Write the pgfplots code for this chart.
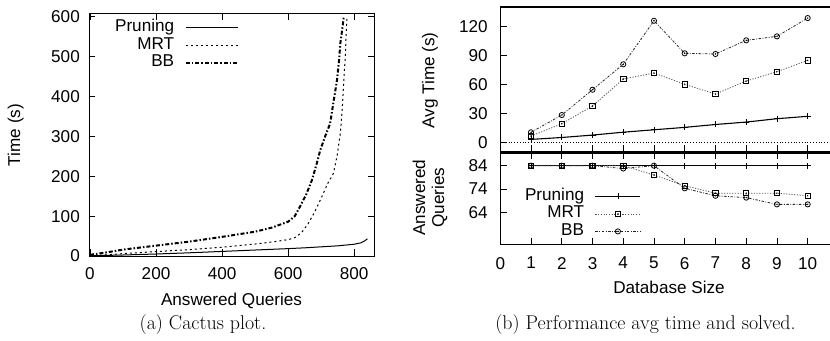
\documentclass[border=0pt]{standalone}
\usepackage{fontspec}
\newfontfamily\helv{Liberation Sans}
\usepackage{pgfplots}
\pgfplotsset{compat=1.18}
\pgfdeclareplotmark{sqdot}{%
  \pgfpathrectangle{\pgfpoint{-\pgfplotmarksize}{-\pgfplotmarksize}}{\pgfpoint{2\pgfplotmarksize}{2\pgfplotmarksize}}%
  \pgfusepathqstroke
  \pgfpathcircle{\pgfpointorigin}{0.3\pgfplotmarksize}\pgfusepathqfill}
\pgfdeclareplotmark{cdot}{%
  \pgfpathcircle{\pgfpointorigin}{\pgfplotmarksize}\pgfusepathqstroke
  \pgfpathcircle{\pgfpointorigin}{0.3\pgfplotmarksize}\pgfusepathqfill}
\newcommand{\axfont}{\helv\fontsize{17.2}{19}\selectfont}
\pgfplotsset{
  gp/.style={
    scale only axis,
    /pgf/number format/assume math mode=true,
    tick label style={font=\axfont},
    label style={font=\axfont},
    legend style={font=\axfont},
    tick align=inside,
    major tick length=6.5bp,
    axis line style={line width=1bp},
    every tick/.style={black, line width=0.8bp},
    scaled ticks=false,
    clip=false,
    legend cell align=right,
    legend plot pos=right,
  },
  leg/.style={
    legend style={draw=none, fill=none, inner sep=0pt, outer sep=0pt,
      column sep=10.5bp, row sep=0pt,
      nodes={inner sep=0.25bp, text height=12.5bp, text depth=4.5bp}},
  },
}
\begin{document}
\begin{tikzpicture}
\useasboundingbox (0,0) rectangle (830bp,341bp);
% ---------- (a) cactus plot ----------
\begin{axis}[gp, leg,
  at={(89bp,85bp)}, anchor=south west,
  width=285bp, height=242bp,
  xmin=-3, xmax=860, ymin=0, ymax=607,
  xtick={0,200,400,600,800}, ytick={0,100,200,300,400,500,600},
  yticklabel style={inner sep=0pt, xshift=-9bp},
  xticklabel style={inner sep=0pt, yshift=-11bp},
  xlabel={Answered Queries}, ylabel={Time (s)},
  every axis x label/.style={at={(axis description cs:0.5,-0.186)}, anchor=center, font=\axfont},
  every axis y label/.style={at={(axis description cs:-0.257,0.5)}, anchor=center, rotate=90, font=\axfont},
  legend image code/.code={\draw[#1] (0bp,0bp) -- (52bp,0bp);},
  legend style={at={(axis description cs:0.526,0.979)}, anchor=north east},
]
\addplot[black, line width=1bp] coordinates {
(0,0.5) (50,1.5) (100,2.5) (200,5) (300,8) (400,11.5) (500,15) (600,18.5) (650,20.5) (700,23) (750,25.5) (800,29.5) (820,33) (830,37) (840,43)};
\addlegendentry{Pruning}
\addplot[black, line width=1bp, dash pattern=on 2bp off 3bp] coordinates {
(0,0) (50,3) (100,6) (200,11) (300,16) (400,22) (500,30) (550,35) (600,41) (620,46) (640,58) (660,80) (680,110) (700,145) (720,182) (737,207) (748,250) (758,307) (764,370) (768,433) (773,500) (776,560) (778,600)};
\addlegendentry{MRT}
\addplot[black, line width=2bp, dash pattern=on 4bp off 2bp on 1.5bp off 2bp] coordinates {
(0,3) (50,9) (100,16) (200,26) (300,36) (400,48) (500,61) (550,71) (600,86) (620,100) (636,124) (655,155) (672,190) (686,230) (697,265) (712,300) (727,332) (738,390) (748,441) (754,490) (758,533) (764,570) (768,596) (771,600)};
\addlegendentry{BB}
\end{axis}
% ---------- (b) top panel ----------
\begin{axis}[gp,
  at={(500.3bp,189bp)}, anchor=south west,
  width=338.1bp, height=145bp,
  axis line style={line width=1.3bp},
  xmin=0, xmax=11, ymin=-10.07, ymax=140.5,
  xtick={1,2,3,4,5,6,7,8,9,10}, xticklabels={},
  xtick pos=bottom,
  ytick={0,30,60,90,120},
  yticklabel style={inner sep=0pt, xshift=-12.5bp},
  ylabel={Avg Time (s)},
  every axis y label/.style={at={(axis description cs:-0.208,0.493)}, anchor=center, rotate=90, font=\axfont},
]
\addplot[black, line width=0.8bp, dotted] coordinates {(0,0) (11,0)};
\addplot[black, line width=1.1bp, mark=+, mark size=3bp, mark options={solid, line width=0.8bp}] coordinates {
(1,3) (2,5) (3,7.5) (4,10.5) (5,13) (6,15.5) (7,18.5) (8,21) (9,24.5) (10,27)};
\addplot[black!65, line width=0.8bp, dash pattern=on 1.2bp off 1.5bp, mark=sqdot, mark size=2.7bp, mark options={solid, black, line width=0.8bp}] coordinates {
(1,6.5) (2,19.3) (3,37.7) (4,65.7) (5,71.9) (6,60.2) (7,50.1) (8,63.6) (9,73.3) (10,85.1)};
\addplot[black!85, line width=0.8bp, dash pattern=on 2.5bp off 1.5bp on 0.8bp off 1.5bp, mark=cdot, mark size=2.6bp, mark options={solid, black, line width=0.8bp}] coordinates {
(1,10.4) (2,28.3) (3,54.6) (4,81) (5,126.2) (6,92.4) (7,91.7) (8,105.9) (9,110) (10,129)};
\end{axis}
% ---------- (b) bottom panel ----------
\begin{axis}[gp, leg,
  at={(500.3bp,96.5bp)}, anchor=south west,
  width=338.1bp, height=91.5bp,
  axis line style={line width=1.3bp},
  xmin=0, xmax=11, ymin=50.18, ymax=89.45,
  xtick={0,1,2,3,4,5,6,7,8,9,10},
  ytick={64,74,84},
  yticklabel style={inner sep=0pt, xshift=-12.5bp},
  xticklabel style={inner sep=0pt, yshift=-12.5bp},
  xlabel={Database Size},
  ylabel={Answered\\Queries},
  every axis x label/.style={at={(axis description cs:0.499,-0.467)}, anchor=center, font=\axfont},
  every axis y label/.style={at={(axis description cs:-0.208,0.511)}, anchor=center, rotate=90, align=center, font=\axfont},
  legend image code/.code={\draw[mark repeat=2, mark phase=2, #1] plot coordinates {(0bp,0bp) (22.5bp,0bp) (45bp,0bp)};},
  legend style={at={(axis description cs:0.416,0.621)}, anchor=north east},
]
\addplot[black, line width=1.1bp, mark=+, mark size=3bp, mark options={solid, line width=0.8bp}] coordinates {
(1,84) (2,84) (3,84) (4,84) (5,84) (6,84) (7,84) (8,84) (9,84) (10,84)};
\addlegendentry{Pruning}
\addplot[black!65, line width=0.8bp, dash pattern=on 1.2bp off 1.5bp, mark=sqdot, mark size=2.7bp, mark options={solid, black, line width=0.8bp}] coordinates {
(1,84) (2,84) (3,84) (4,84) (5,80) (6,75.4) (7,72.2) (8,72.2) (9,72.2) (10,71.1)};
\addlegendentry{MRT}
\addplot[black!85, line width=0.8bp, dash pattern=on 2.5bp off 1.5bp on 0.8bp off 1.5bp, mark=cdot, mark size=2.6bp, mark options={solid, black, line width=0.8bp}] coordinates {
(1,84) (2,84) (3,84) (4,82.8) (5,84) (6,74.3) (7,71.1) (8,70.3) (9,67.4) (10,67.4)};
\addlegendentry{BB}
\end{axis}
% ---------- captions ----------
\node[font=\fontsize{20}{24}\selectfont, anchor=center] at (203bp,16bp) {(a) Cactus plot.};
\node[font=\fontsize{20}{24}\selectfont, anchor=center] at (645.5bp,16bp) {(b) Performance avg time and solved.};
\end{tikzpicture}
\end{document}
